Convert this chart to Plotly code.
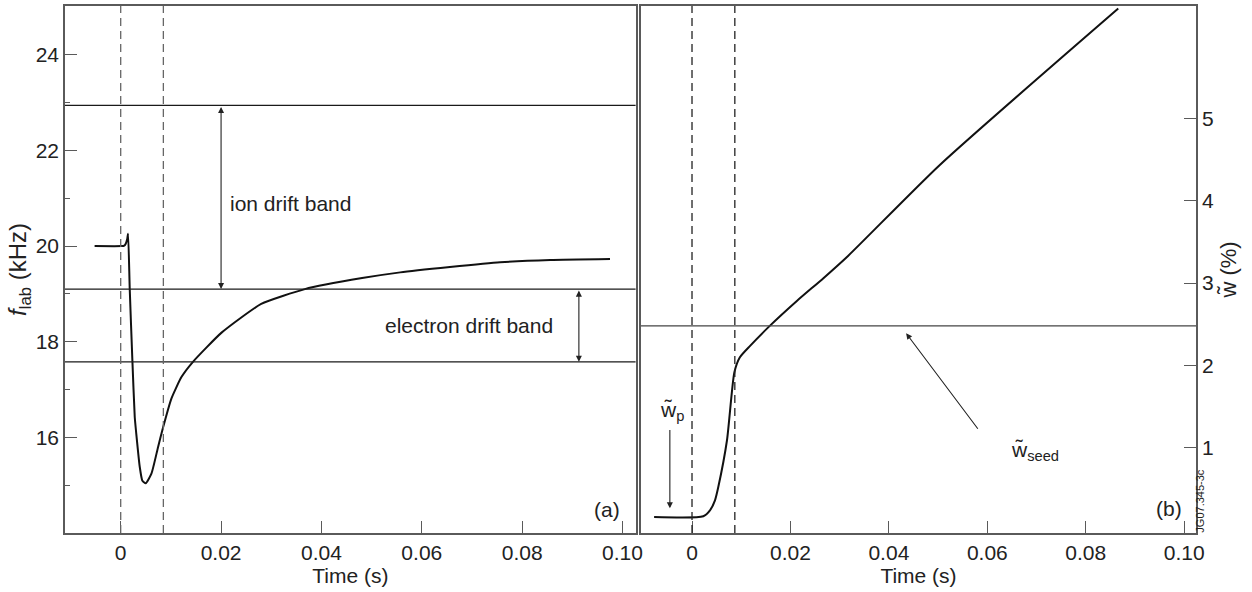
import plotly.graph_objects as go

# ---------------- data ----------------
# panel (a): lab-frame frequency (kHz) vs time (s)
t_a = [-0.0052, 0.0003, 0.0007, 0.0010, 0.0013, 0.00147, 0.0018, 0.00233, 0.0028, 0.0031,
       0.0038, 0.0043, 0.00498, 0.00612, 0.00745, 0.00845, 0.0101, 0.0121, 0.0144, 0.0201,
       0.0280, 0.0367, 0.0481, 0.0557, 0.0656, 0.0756, 0.0856, 0.0975]
f_a = [20.00, 20.00, 20.01, 20.05, 20.15, 20.26, 19.10, 17.60, 16.42, 16.08,
       15.38, 15.10, 15.04, 15.24, 15.80, 16.21, 16.81, 17.26, 17.58, 18.19,
       18.79, 19.10, 19.33, 19.45, 19.56, 19.66, 19.71, 19.73]

# panel (b): island width (%) vs time (s)
t_b = [-0.0077, 0.0023, 0.00365, 0.00467, 0.00534, 0.0071, 0.0086, 0.0097, 0.0118, 0.0158,
       0.0213, 0.0267, 0.0317, 0.0504, 0.0866]
w_b = [0.155, 0.164, 0.236, 0.358, 0.519, 1.085, 1.913, 2.095, 2.236, 2.479,
       2.782, 3.06, 3.33, 4.44, 6.34]

band_lines = [22.94, 19.10, 17.58]       # ion band top, ion/electron boundary, electron band bottom
seed_level = [2.48]
dash_a = [0.0, 0.0085]
dash_b = [0.0, 0.0087]

x_tickvals = [0, 0.02, 0.04, 0.06, 0.08, 0.10]
x_ticktext = ["0", "0.02", "0.04", "0.06", "0.08", "0.10"]
fa_tickvals = [16, 18, 20, 22, 24]
wb_tickvals = [1, 2, 3, 4, 5]

FONT = "Liberation Sans, Arial, Helvetica, sans-serif"
TXT = "#222222"
AX = "#5a5a5a"

fig = go.Figure()
fig.add_trace(go.Scatter(x=t_a, y=f_a, mode="lines",
                         line=dict(color="#111111", width=2, shape="spline", smoothing=0.5),
                         xaxis="x", yaxis="y", showlegend=False, hoverinfo="skip"))
fig.add_trace(go.Scatter(x=t_b, y=w_b, mode="lines",
                         line=dict(color="#111111", width=2, shape="spline", smoothing=0.6),
                         xaxis="x2", yaxis="y2", showlegend=False, hoverinfo="skip"))

shapes = []
for v in band_lines:
    shapes.append(dict(type="line", xref="x domain", yref="y", x0=0, x1=1, y0=v, y1=v,
                       line=dict(color="#1a1a1a", width=1.3)))
for v in seed_level:
    shapes.append(dict(type="line", xref="x2 domain", yref="y2", x0=0, x1=1, y0=v, y1=v,
                       line=dict(color="#444444", width=1.3)))
for v in dash_a:
    shapes.append(dict(type="line", xref="x", yref="y domain", x0=v, x1=v, y0=0, y1=1,
                       line=dict(color="#666666", width=1.3, dash="8px,5px")))
for v in dash_b:
    shapes.append(dict(type="line", xref="x2", yref="y2 domain", x0=v, x1=v, y0=0, y1=1,
                       line=dict(color="#222222", width=1.3, dash="8px,5px")))

ann = []
def arrow(xref, yref, x, y, ax, ay, both=False):
    ann.append(dict(xref=xref, yref=yref, axref=xref, ayref=yref, x=x, y=y, ax=ax, ay=ay,
                    text="", showarrow=True, arrowhead=2, arrowsize=1.1, arrowwidth=1.1,
                    arrowcolor="#222222", arrowside="end+start" if both else "end",
                    startarrowhead=2, startarrowsize=1.1, standoff=0, startstandoff=0))

arrow("x", "y", 0.0200, band_lines[1], 0.0200, band_lines[0], both=True)
arrow("x", "y", 0.0913, band_lines[2], 0.0913, band_lines[1], both=True)
arrow("x2", "y2", -0.0045, 0.26, -0.0045, 1.23)
arrow("x2", "y2", 0.0435, 2.39, 0.0583, 1.21)

def label(xref, yref, x, y, text, xanchor="left", size=21):
    ann.append(dict(xref=xref, yref=yref, x=x, y=y, text=text, showarrow=False,
                    xanchor=xanchor, yanchor="middle", font=dict(family=FONT, size=size, color=TXT)))

label("x", "y", 0.0214, 20.9, "ion drift band")
label("x", "y", 0.0866, 18.33, "electron drift band", xanchor="right")
label("x", "y", 0.0999, 14.5, "(a)", xanchor="right")
label("x2", "y2", 0.0999, 0.26, "(b)", xanchor="right")
label("x2", "y2", -0.0041, 1.45, "w\u0303<sub>p</sub>", xanchor="center")
label("x2", "y2", 0.0696, 0.96, "w\u0303<sub>seed</sub>", xanchor="center")

ann.append(dict(xref="paper", yref="paper", x=1.004, y=0.0605, text="JG07.345-3c", textangle=-90,
                showarrow=False, xanchor="center", yanchor="middle",
                font=dict(family=FONT, size=11, color=TXT)))

axis_common = dict(showline=True, linecolor=AX, linewidth=1.5, mirror=True, ticks="inside",
                   tickcolor=AX, tickwidth=1.3, showgrid=False, zeroline=False,
                   tickfont=dict(family=FONT, size=21, color=TXT))

fig.update_layout(
    width=1252, height=592,
    margin=dict(l=65, r=56, t=4, b=59),
    paper_bgcolor="white", plot_bgcolor="white",
    font=dict(family=FONT, size=21, color=TXT),
    showlegend=False,
    shapes=shapes, annotations=ann,
    xaxis=dict(domain=[0, 0.5045], anchor="y", range=[-0.0111, 0.1026],
               tickmode="array", tickvals=x_tickvals, ticktext=x_ticktext, ticklen=12,
               title=dict(text="Time (s)", standoff=4, font=dict(family=FONT, size=21, color=TXT)),
               **axis_common),
    yaxis=dict(domain=[0, 1], anchor="x", range=[14.0, 25.02],
               tickmode="array", tickvals=fa_tickvals, ticklen=12,
               minor=dict(tickmode="linear", tick0=0, dtick=1, ticks="inside", ticklen=5,
                          tickcolor=AX, tickwidth=1.3),
               title=dict(text="<i>f</i><sub>lab</sub> (kHz)", standoff=2,
                          font=dict(family=FONT, size=24, color=TXT)),
               **axis_common),
    xaxis2=dict(domain=[0.5093, 1], anchor="y2", range=[-0.01036, 0.1024],
                tickmode="array", tickvals=x_tickvals, ticktext=x_ticktext, ticklen=12,
                title=dict(text="Time (s)", standoff=4, font=dict(family=FONT, size=21, color=TXT)),
                **axis_common),
    yaxis2=dict(domain=[0, 1], anchor="x2", side="right", range=[-0.04, 6.37],
                tickmode="array", tickvals=wb_tickvals, ticklen=12,
                title=dict(text="w\u0303 (%)", standoff=8, font=dict(family=FONT, size=22, color=TXT)),
                **axis_common),
)

fig.write_html("out.html")
